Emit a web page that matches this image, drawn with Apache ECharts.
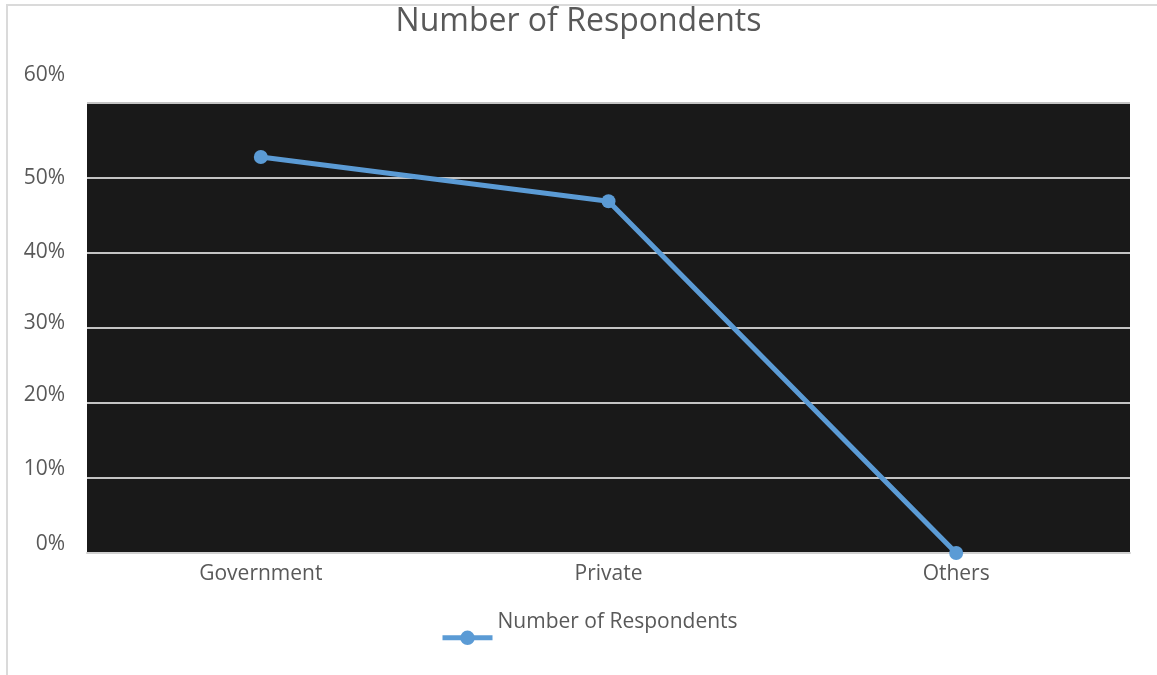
<!DOCTYPE html>
<html>
<head>
<meta charset="utf-8">
<script src="https://cdn.jsdelivr.net/npm/echarts@6/dist/echarts.min.js"></script>
<style>
  html, body { margin: 0; padding: 0; background: #ffffff; overflow: hidden; }
  #frame { position: absolute; left: 6px; top: 4px; width: 1170px; height: 700px;
           border: 2px solid #dadada; box-sizing: border-box; }
  #chart { position: absolute; left: 0; top: 0; width: 1157px; height: 675px; }
</style>
</head>
<body>
<div id="frame"></div>
<div id="chart"></div>
<script>
// Chart data
const categories = ['Government', 'Private', 'Others'];
const respondents = [52.8, 46.9, 0];
const seriesName = 'Number of Respondents';
const yTicks = [0, 10, 20, 30, 40, 50, 60];

const fontFamily = '"Open Sans", "Noto Sans", sans-serif';
const textColor = '#595959';
const lineColor = '#5b9bd5';

// vertical nudge (px, upward) of each y tick label
const labelLift = { 0: 9, 10: 9, 20: 8, 30: 5, 40: 1, 50: 0, 60: 28 };
const rich = {};
yTicks.forEach(v => {
  rich['t' + v] = { fontSize: 21, color: textColor, fontFamily: fontFamily,
                    padding: [0, 0, labelLift[v] * 2, 0] };
});

const chart = echarts.init(document.getElementById('chart'), null, { renderer: 'canvas' });
chart.setOption({
  backgroundColor: 'transparent',
  animation: false,
  title: {
    text: seriesName,
    left: 'center',
    top: 1,
    textStyle: { fontFamily: fontFamily, fontSize: 32, fontWeight: 'normal', color: textColor }
  },
  legend: {
    data: [seriesName],
    bottom: 25,
    left: 435,
    itemWidth: 50,
    itemHeight: 18,
    itemGap: 10,
    lineStyle: { width: 5 },
    formatter: name => '{n|' + name + '}',
    textStyle: {
      rich: { n: { fontFamily: fontFamily, fontSize: 21, color: textColor, padding: [0, 0, 32, 0] } }
    }
  },
  grid: {
    left: 87, right: 27, top: 103, bottom: 122,
    show: true, backgroundColor: '#191919', borderWidth: 0
  },
  xAxis: {
    type: 'category',
    data: categories,
    boundaryGap: true,
    axisLine: { show: true, lineStyle: { color: '#d0d0d0', width: 2 } },
    axisTick: { show: false },
    axisLabel: { fontFamily: fontFamily, fontSize: 21, color: textColor, margin: 11 }
  },
  yAxis: {
    type: 'value',
    min: 0, max: 60, interval: 10,
    axisLine: { show: false },
    axisTick: { show: false },
    splitLine: { show: true, lineStyle: { color: '#c4c4c4', width: 2 } },
    axisLabel: {
      margin: 22,
      formatter: v => '{t' + v + '|' + v + '%}',
      rich: rich
    }
  },
  series: [{
    name: seriesName,
    type: 'line',
    data: respondents,
    symbol: 'circle',
    symbolSize: 14,
    lineStyle: { color: lineColor, width: 5 },
    itemStyle: { color: lineColor },
    z: 5
  }]
});
</script>
</body>
</html>
